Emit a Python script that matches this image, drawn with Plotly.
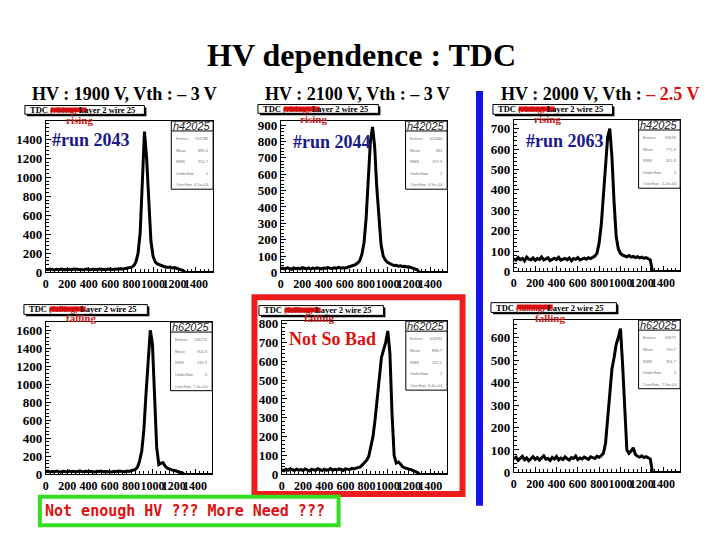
import plotly.graph_objects as go

# TDC bin positions shared by all six histograms
TDC_BINS = [
    0, 20, 40, 60, 80, 100, 120, 140, 160, 180,
    200, 220, 240, 260, 280, 300, 320, 340, 360, 380,
    400, 420, 440, 460, 480, 500, 520, 540, 560, 580,
    600, 620, 640, 660, 680, 700, 720, 740, 760, 780,
    800, 820, 840, 860, 880, 900, 920, 940, 960, 980,
    1000, 1020, 1040, 1060, 1080, 1100, 1120, 1140, 1160, 1180,
    1200, 1220, 1240, 1260, 1280, 1300, 1560,
]

# rising edge (h42025)
RUN2043_RISING = [
    32, 28, 35, 30, 26, 33, 29, 36, 31, 27, 34, 30, 28, 35, 32, 29, 33, 27, 31, 36,
    30, 28, 34, 32, 29, 35, 31, 33, 28, 36, 32, 30, 34, 37, 33, 38, 35, 40,
    42, 48, 55, 70, 110, 200, 420, 950, 1480, 1200, 700, 330, 170, 110, 90,
    78, 70, 62, 56, 52, 57, 46, 50, 42, 36, 30, 20, 0, 0,
]
RUN2044_RISING = [
    22, 26, 20, 28, 24, 19, 27, 23, 25, 21, 29, 24, 22, 27, 20, 26, 23, 28, 25, 21,
    27, 24, 30, 26, 23, 28, 25, 31, 27, 29, 26,
    30, 34, 38, 43, 48, 57, 72, 110, 180, 330, 560, 800, 890, 770, 520,
    310, 170, 100, 76, 62, 55, 46, 42, 44, 38, 40, 36, 38, 33, 35, 30, 26, 22, 16, 0, 0,
]
RUN2063_RISING = [
    62, 55, 68, 58, 64, 52, 70, 60, 57, 66, 54, 63, 59, 71, 56, 62, 67, 53, 60, 65,
    58, 69, 55, 61, 64, 57, 66, 52, 63, 59, 68, 56, 62, 65, 60, 67, 63, 70,
    75, 90, 140, 230, 380, 530, 660, 700, 560, 340, 170, 110, 88, 80, 76,
    72, 78, 70, 74, 68, 72, 66, 70, 64, 68, 60, 56, 0, 0,
]

# falling edge (h62025)
RUN2043_FALLING = [
    30, 36, 27, 33, 29, 38, 31, 26, 35, 32, 28, 37, 30, 34, 27, 33, 39, 29, 31, 36,
    28, 34, 30, 26, 35, 32, 38, 29, 33, 31, 36, 28, 34, 30, 37, 32, 35, 29, 38, 34,
    40, 44,
    55, 80, 150, 260, 500, 900, 1300, 1600, 1450, 900, 300, 110, 125, 130, 90,
    70, 56, 50, 46, 40, 36, 26, 16, 0, 0,
]
RUN2044_FALLING = [
    24, 19, 27, 22, 30, 25, 20, 28, 23, 26, 21, 29, 24, 18, 27, 25, 22, 30, 26, 20,
    28, 23, 25, 31, 22, 27, 24, 29, 26, 21, 30, 27, 25, 32, 29, 33,
    35, 40, 50, 60, 75, 95, 140, 200, 290, 400, 520, 620, 660, 700, 760,
    640, 320, 100, 60, 66, 55, 40, 35, 30, 28, 25, 20, 15, 10, 0, 0,
]
RUN2063_FALLING = [
    60, 68, 54, 63, 72, 57, 65, 52, 61, 70, 58, 66, 55, 63, 74, 59, 62, 53, 67, 60,
    71, 56, 64, 58, 69, 61, 55, 66, 62, 73, 57, 64, 60, 68, 63, 58, 70, 65, 62, 72,
    68, 75,
    85, 130, 230, 350, 460, 510, 570, 600, 640, 480, 250, 100, 85, 95, 110,
    80, 72, 68, 74, 66, 70, 64, 60, 0, 0,
]

HEADERS = [
    "HV : 1900 V, Vth : – 3 V",
    "HV : 2100 V, Vth : – 3 V",
    "HV : 2000 V, Vth : <span style='color:#dd1111'>– 2.5 V</span>",
]
RUN_LABELS = ["#run 2043", "#run 2044", "#run 2063"]
EDGES = ["rising", "rising", "rising", "falling", "falling", "falling"]
HIST_NAMES = ["h42025", "h42025", "h42025", "h62025", "h62025", "h62025"]
STAT_LABELS = ["Entries", "Mean", "RMS", "Underflow", "Overflow"]
STAT_VALUES = [
    ["137280", "885.3", "252.7", "0", "4.1e+04"],
    ["105340", "862", "197.3", "2", "4.9e+04"],
    ["94535", "771.3", "301.8", "5", "2.2e+04"],
    ["136771", "901.3", "241.9", "0", "7.1e+04"],
    ["104931", "886.7", "201.5", "2", "6.4e+04"],
    ["94571", "790.7", "301.7", "5", "7.9e+04"],
]

W, H = 720, 540
SERIF = "Liberation Serif"


def px(x):
    return x / W


def py(y):
    return 1 - y / H


def note(x, y, text, font, xanchor="center", xref="paper", yref="paper"):
    return dict(xref=xref, yref=yref, x=x, y=y, text=text, showarrow=False,
                xanchor=xanchor, yanchor="middle", font=font)


fig = go.Figure()
shapes = []
annotations = []

# data, y max, y dtick, frame left/right/top/bottom (pixels), label box, edge text pos
panels = [
    (RUN2043_RISING, 1590, 200, 43, 211, 119, 274, (22, 103, 142, 112), (77, 118)),
    (RUN2044_RISING, 925, 100, 279, 446, 119, 274, (256, 102, 377, 111), (312, 117)),
    (RUN2063_RISING, 742, 100, 513, 680, 118, 273, (492, 102, 612, 112), (547, 117)),
    (RUN2043_FALLING, 1690, 200, 43, 210, 325, 481, (21, 307, 145, 317), (78, 321)),
    (RUN2044_FALLING, 812, 100, 280, 446, 324, 481, (257, 308, 382, 318), (317, 321)),
    (RUN2063_FALLING, 677, 100, 513, 680, 323, 479, (490, 305, 616, 315), (549, 321)),
]

layout_axes = {}
for i, (data, ymax, dt, left, right, top, bottom, box, edge_pos) in enumerate(panels):
    sfx = "" if i == 0 else str(i + 1)
    fig.add_trace(go.Scatter(
        x=TDC_BINS, y=data, mode="lines",
        line=dict(color="black", width=3),
        xaxis="x" + sfx, yaxis="y" + sfx,
        showlegend=False, hoverinfo="skip",
    ))
    layout_axes["xaxis" + sfx] = dict(
        domain=[px(left), px(right)], range=[0, 1560], anchor="y" + sfx,
        tick0=0, dtick=200, ticks="inside", ticklen=5, tickcolor="black",
        minor=dict(dtick=40, ticks="inside", ticklen=3, tickcolor="black"),
        showline=True, mirror=True, linecolor="black", linewidth=1,
        showgrid=False, zeroline=False, tickangle=0,
        tickfont=dict(family=SERIF, size=12, color="black", weight="bold"),
        fixedrange=True,
    )
    layout_axes["yaxis" + sfx] = dict(
        domain=[py(bottom), py(top)], range=[0, ymax], anchor="x" + sfx,
        tick0=0, dtick=dt, ticks="inside", ticklen=5, tickcolor="black",
        minor=dict(dtick=dt / 5, ticks="inside", ticklen=3, tickcolor="black"),
        showline=True, mirror=True, linecolor="black", linewidth=1,
        showgrid=False, zeroline=False,
        tickfont=dict(family=SERIF, size=13, color="black", weight="bold"),
        fixedrange=True,
    )

    # stats box
    xr, yr = "x" + sfx + " domain", "y" + sfx + " domain"
    shapes.append(dict(type="rect", xref=xr, yref=yr, x0=0.75, x1=1, y0=0.55, y1=1,
                       line=dict(color="black", width=1), fillcolor="white", layer="above"))
    shapes.append(dict(type="line", xref=xr, yref=yr, x0=0.75, x1=1, y0=0.935, y1=0.935,
                       line=dict(color="black", width=1), layer="above"))
    annotations.append(note(0.875, 0.968, "<i>" + HIST_NAMES[i] + "</i>",
                            dict(family="Liberation Sans", size=11, color="#222"), xref=xr, yref=yr))
    small = dict(family="Liberation Sans", size=4, color="#777")
    for k, (lab, val) in enumerate(zip(STAT_LABELS, STAT_VALUES[i])):
        yy = 0.884 - k * 0.076
        annotations.append(note(0.765, yy, lab, small, xanchor="left", xref=xr, yref=yr))
        annotations.append(note(0.99, yy, val, small, xanchor="right", xref=xr, yref=yr))

    # "TDC (edge) Layer 2 wire 25" label with shadow and red highlight
    bx0, by0, bx1, by1 = box
    shapes.append(dict(type="rect", xref="paper", yref="paper",
                       x0=px(bx0 + 2), x1=px(bx1 + 2), y0=py(by1 + 2), y1=py(by0 + 2),
                       line=dict(width=0), fillcolor="black"))
    shapes.append(dict(type="rect", xref="paper", yref="paper",
                       x0=px(bx0), x1=px(bx1), y0=py(by1), y1=py(by0),
                       line=dict(color="black", width=1), fillcolor="white"))
    shapes.append(dict(type="rect", xref="paper", yref="paper",
                       x0=px(bx0 + 26), x1=px(bx0 + 62), y0=py(by0 + 7), y1=py(by0 + 2),
                       line=dict(width=0), fillcolor="#e01010"))
    annotations.append(note(px(bx0 + 3), py((by0 + by1) / 2),
                            "TDC <span style='color:#c01010'>(" + EDGES[i] + ")</span> Layer 2 wire 25",
                            dict(family=SERIF, size=8.5, color="black", weight="bold"), xanchor="left"))
    annotations.append(note(px(edge_pos[0]), py(edge_pos[1]), "<b>" + EDGES[i] + "</b>",
                            dict(family=SERIF, size=11, color="#cc1a1a")))

fig.update_layout(**layout_axes)

# column headers and run labels
header_x = [122, 356, 599]
run_pos = [(88, 138), (330, 140), (564, 139)]
for j in range(3):
    annotations.append(note(px(header_x[j]), py(91), "<b>" + HEADERS[j] + "</b>",
                            dict(family=SERIF, size=18, color="black")))
    annotations.append(note(px(run_pos[j][0]), py(run_pos[j][1]), "<b>" + RUN_LABELS[j] + "</b>",
                            dict(family=SERIF, size=18, color="#1a1a8c")))

annotations.append(note(px(360), py(51), "<b>HV dependence : TDC</b>",
                        dict(family=SERIF, size=32, color="black")))
annotations.append(note(px(331), py(342), "<b>Not So Bad</b>",
                        dict(family=SERIF, size=18, color="#dd1111")))

# highlight frames
shapes.append(dict(type="rect", xref="paper", yref="paper",
                   x0=px(252.5), x1=px(461.5), y0=py(501), y1=py(299.5),
                   line=dict(color="#ee1c1c", width=6)))
shapes.append(dict(type="rect", xref="paper", yref="paper",
                   x0=px(37), x1=px(337), y0=py(533), y1=py(504),
                   line=dict(color="#33dd22", width=4), fillcolor="white"))
shapes.append(dict(type="line", xref="paper", yref="paper",
                   x0=px(478.5), x1=px(478.5), y0=py(513), y1=py(88),
                   line=dict(color="#1414e6", width=7)))
annotations.append(note(px(183), py(518), "<b>Not enough HV ??? More Need ???</b>",
                        dict(family="DejaVu Sans Mono", size=15, color="#dd1111")))

fig.update_layout(
    width=W, height=H,
    margin=dict(l=0, r=0, t=0, b=0),
    paper_bgcolor="white", plot_bgcolor="white",
    shapes=shapes, annotations=annotations,
    showlegend=False,
)

fig.write_html("out.html", config={"displayModeBar": False},
               post_script="document.body.style.margin='0px';document.body.style.overflow='hidden';")
